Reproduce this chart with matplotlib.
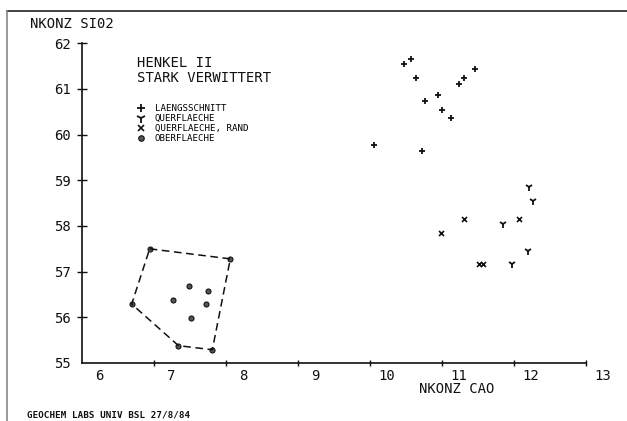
import matplotlib.pyplot as plt
from matplotlib.lines import Line2D
from matplotlib.transforms import ScaledTranslation

plt.rcParams["font.family"] = "DejaVu Sans Mono"

# NKONZ CAO (x) against NKONZ SIO2 (y)
laengs_cao = [10.47, 10.57, 10.64, 11.46, 11.31, 11.23, 10.95, 10.76, 11.00, 11.13, 10.06, 10.72]
laengs_sio2 = [61.55, 61.65, 61.25, 61.44, 61.25, 61.10, 60.86, 60.73, 60.55, 60.36, 59.77, 59.65]
quer_cao = [12.21, 12.27, 11.85, 12.19, 11.97]
quer_sio2 = [58.85, 58.55, 58.05, 57.46, 57.17]
rand_cao = [11.30, 12.07, 10.99, 11.52, 11.57]
rand_sio2 = [58.16, 58.16, 57.85, 57.17, 57.17]
ober_cao = [6.94, 8.06, 7.81, 7.34, 6.69, 7.48, 7.75, 7.27, 7.72, 7.51]
ober_sio2 = [57.50, 57.28, 55.29, 55.38, 56.29, 56.68, 56.57, 56.38, 56.29, 55.98]
hull = [0, 1, 2, 3, 4, 0]  # outline around the OBERFLAECHE points

x_ticks = [6, 7, 8, 9, 10, 11, 12, 13]
y_ticks = [55, 56, 57, 58, 59, 60, 61, 62]

ink = "#111111"

# %%
W, H = 627, 421
fig = plt.figure(figsize=(W / 100, H / 100), dpi=100)
ax = fig.add_axes([82 / W, 58 / H, 504 / W, 319.7 / H])
ax.set_xlim(6, 13)
ax.set_ylim(55, 62)
for s in ["top", "right"]:
    ax.spines[s].set_visible(False)
for s in ["left", "bottom"]:
    ax.spines[s].set_linewidth(1.2)
    ax.spines[s].set_color(ink)

ax.plot(laengs_cao, laengs_sio2, ls="none", marker="+", ms=5, mew=1.3,
        color=ink, clip_on=False, label="LAENGSSCHNITT")
ax.plot(quer_cao, quer_sio2, ls="none", marker="1", ms=6, mew=1.3,
        color=ink, clip_on=False, label="QUERFLAECHE")
ax.plot(rand_cao, rand_sio2, ls="none", marker="x", ms=3.6, mew=1.2,
        color=ink, clip_on=False, label="QUERFLAECHE, RAND")
ax.plot(ober_cao, ober_sio2, ls="none", marker="o", ms=3.6, mfc="#555555",
        mec=ink, mew=0.8, clip_on=False, label="OBERFLAECHE")
ax.plot([ober_cao[i] for i in hull], [ober_sio2[i] for i in hull],
        ls=(0, (5, 3)), lw=1.1, color=ink)

ax.set_xticks(x_ticks)
ax.set_yticks(y_ticks)
ax.tick_params(axis="x", direction="inout", length=4.3, width=1, pad=2.2,
               labelsize=10, colors=ink)
ax.tick_params(axis="y", direction="inout", length=7.2, width=1, pad=4.3,
               labelsize=10, colors=ink)
# plotter put the x labels a bit right of their ticks
offset = ScaledTranslation(0.17, 0, fig.dpi_scale_trans)
for lab in ax.get_xticklabels():
    lab.set_transform(lab.get_transform() + offset)
ax.xaxis.get_major_ticks()[0].tick1line.set_visible(False)
ax.yaxis.get_major_ticks()[0].tick1line.set_visible(False)

ax.legend(loc="upper left", bbox_to_anchor=(0.1097, 0.809), frameon=False,
          prop={"size": 6.6}, handlelength=0.8, handletextpad=1.1,
          labelspacing=0.1, borderpad=0, borderaxespad=0, markerscale=1.1)

fig.text(30 / W, 1 - 28.3 / H, "NKONZ SI02", fontsize=10, color=ink, va="baseline")
fig.text(137 / W, 1 - 66.7 / H, "HENKEL II", fontsize=10, color=ink, va="baseline")
fig.text(137 / W, 1 - 81.7 / H, "STARK VERWITTERT", fontsize=10, color=ink, va="baseline")
fig.text(419 / W, 1 - 393.3 / H, "NKONZ CAO", fontsize=10, color=ink, va="baseline")
fig.text(27.3 / W, 1 - 417.7 / H, "GEOCHEM LABS UNIV BSL 27/8/84", fontsize=6.7,
         fontweight="bold", color=ink, va="baseline")

# sheet border
fig.add_artist(Line2D([7 / W, 1], [1 - 10.5 / H, 1 - 10.5 / H], color="#444444", lw=1.4))
fig.add_artist(Line2D([7 / W, 7 / W], [0, 1 - 10.5 / H], color="#888888", lw=1.2))

fig.savefig("out.png", dpi=100)
